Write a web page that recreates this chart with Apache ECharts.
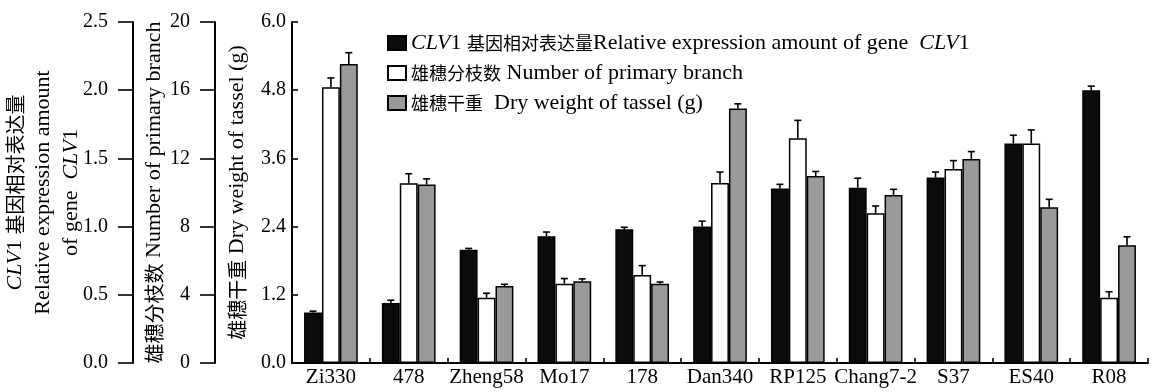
<!DOCTYPE html>
<html><head><meta charset="utf-8">
<script src="https://cdn.jsdelivr.net/npm/echarts@6/dist/echarts.min.js"></script>
<style>html,body{margin:0;padding:0;background:#fff}#c{width:1156px;height:392px}</style>
</head><body><div id="c"></div>
<script>
const categories = ['Zi330','478','Zheng58','Mo17','178','Dan340','RP125','Chang7-2','S37','ES40','R08'];
const clv1 = [0.37,0.44,0.83,0.93,0.98,1.0,1.28,1.285,1.36,1.61,2.0];
const clv1Err = [0.01,0.02,0.01,0.03,0.015,0.04,0.03,0.07,0.04,0.06,0.03];
const branch = [16.17,10.54,3.83,4.65,5.16,10.56,13.18,8.78,11.38,12.88,3.83];
const branchErr = [0.55,0.56,0.26,0.3,0.55,0.64,1.05,0.43,0.49,0.79,0.35];
const dryWeight = [5.26,3.14,1.355,1.44,1.395,4.48,3.29,2.956,3.59,2.74,2.07];
const dryWeightErr = [0.2,0.1,0.03,0.04,0.03,0.08,0.08,0.1,0.13,0.14,0.15];
const clvTicks = ['0.0','0.5','1.0','1.5','2.0','2.5'];
const branchTicks = ['0','4','8','12','16','20'];
const dryTicks = ['0.0','1.2','2.4','3.6','4.8','6.0'];
const seriesNames = ['CLV1','branch','dry'];

const FONT = '"Liberation Serif","Times New Roman","Noto Sans CJK SC",serif';
const CJK = '"Noto Sans CJK SC",sans-serif';
const GAP = 0.31;
function tickAxis(ticks){
  const vals = ticks.map(Number);
  return {min: vals[0], max: vals[vals.length-1], interval: vals[1]-vals[0]};
}
function fmt(ticks){ return (v)=>{ const t = ticks.map(Number); let best=0,bd=1e9; t.forEach((x,i)=>{if(Math.abs(x-v)<bd){bd=Math.abs(x-v);best=i;}}); return ticks[best]; }; }
const legendRich = {
  i: {fontStyle:'italic', fontFamily:FONT, fontSize:22, color:'#000'},
  c: {fontFamily:CJK, fontSize:18, color:'#000'}
};
const nameRich = {
  i: {fontStyle:'italic', fontFamily:FONT, fontSize:22, color:'#000'},
  c: {fontFamily:CJK, fontSize:20, color:'#000'}
};

function errSeries(vals, errs, k, yIdx){
  return {
    type:'custom', yAxisIndex:yIdx, z:5, silent:true,
    data: vals.map((v,i)=>[i,v,errs[i]]),
    renderItem:(params, api)=>{
      const c = api.coord([api.value(0), api.value(1)]);
      const t = api.coord([api.value(0), api.value(1)+api.value(2)]);
      const bandW = api.size([1,0])[0];
      const barW = bandW*(1-GAP)/3;
      const x = c[0] + (k-1)*barW;
      const style = {stroke:'#000', lineWidth:1.6};
      return {type:'group', children:[
        {type:'line', shape:{x1:x,y1:c[1],x2:x,y2:t[1]}, style},
        {type:'line', shape:{x1:x-3.5,y1:t[1],x2:x+3.5,y2:t[1]}, style}
      ]};
    }
  };
}
const yBase = {
  type:'value', position:'left',
  axisLine:{show:true, onZero:false, lineStyle:{color:'#000', width:2}},
  axisTick:{show:true, lineStyle:{color:'#000', width:1.6}},
  splitLine:{show:false},
  nameLocation:'middle', nameRotate:90, nameMoveOverlap:false,
  nameTextStyle:{color:'#000', fontFamily:FONT, fontSize:22, lineHeight:28, rich:nameRich}
};
const LBL = {color:'#000', fontFamily:FONT, fontSize:20};
const chart = echarts.init(document.getElementById('c'));
chart.setOption({
  backgroundColor:'#fff',
  animation:false,
  grid:{left:292, right:8, top:22, bottom:29, containLabel:false, outerBoundsMode:'none'},
  legend:{
    orient:'vertical', left:382, top:27, itemGap:8, itemWidth:18, itemHeight:14,
    icon:'rect', data:seriesNames,
    textStyle:{color:'#000', fontFamily:FONT, fontSize:22, lineHeight:22, rich:legendRich},
    formatter:(n)=>({
      'CLV1':'{i|CLV}1 {c|基因相对表达量}Relative expression amount of gene  {i|CLV}1',
      'branch':'{c|雄穗分枝数} Number of primary branch',
      'dry':'{c|雄穗干重}  Dry weight of tassel (g)'
    })[n]
  },
  xAxis:{
    type:'category', data:categories,
    axisLine:{lineStyle:{color:'#000', width:2}},
    axisTick:{show:true, inside:true, length:5, alignWithLabel:false, lineStyle:{color:'#000', width:1.6}},
    axisLabel:{color:'#000', fontFamily:FONT, fontSize:21, margin:4, interval:0}
  },
  yAxis:[
    Object.assign({}, yBase, tickAxis(dryTicks), {
      offset:0, name:'{c|雄穗干重} Dry weight of tassel (g)', nameGap:41,
      axisTick:{show:true, inside:true, length:6, lineStyle:{color:'#000', width:1.6}},
      axisLabel:Object.assign({}, LBL, {margin:6, formatter:fmt(dryTicks)})
    }),
    Object.assign({}, yBase, tickAxis(branchTicks), {
      offset:77, name:'{c|雄穗分枝数} Number of primary branch', nameGap:47,
      axisTick:{show:true, inside:false, length:15, lineStyle:{color:'#000', width:1.6}},
      axisLabel:Object.assign({}, LBL, {margin:25, formatter:fmt(branchTicks)})
    }),
    Object.assign({}, yBase, tickAxis(clvTicks), {
      offset:159, name:'{i|CLV}1 {c|基因相对表达量}\nRelative expression amount\nof gene  {i|CLV}1', nameGap:48,
      axisTick:{show:true, inside:false, length:15, lineStyle:{color:'#000', width:1.6}},
      axisLabel:Object.assign({}, LBL, {margin:25, formatter:fmt(clvTicks)})
    })
  ],
  series:[
    {name:'CLV1', type:'bar', yAxisIndex:2, data:clv1, barGap:'0%', barCategoryGap:(GAP*100)+'%',
     itemStyle:{color:'#0b0b0b', borderColor:'#000', borderWidth:1.5}},
    {name:'branch', type:'bar', yAxisIndex:1, data:branch, barGap:'0%', barCategoryGap:(GAP*100)+'%',
     itemStyle:{color:'#ffffff', borderColor:'#000', borderWidth:1.5}},
    {name:'dry', type:'bar', yAxisIndex:0, data:dryWeight, barGap:'0%', barCategoryGap:(GAP*100)+'%',
     itemStyle:{color:'#9a9a9a', borderColor:'#000', borderWidth:1.5}},
    errSeries(clv1, clv1Err, 0, 2),
    errSeries(branch, branchErr, 1, 1),
    errSeries(dryWeight, dryWeightErr, 2, 0)
  ]
});
</script></body></html>
